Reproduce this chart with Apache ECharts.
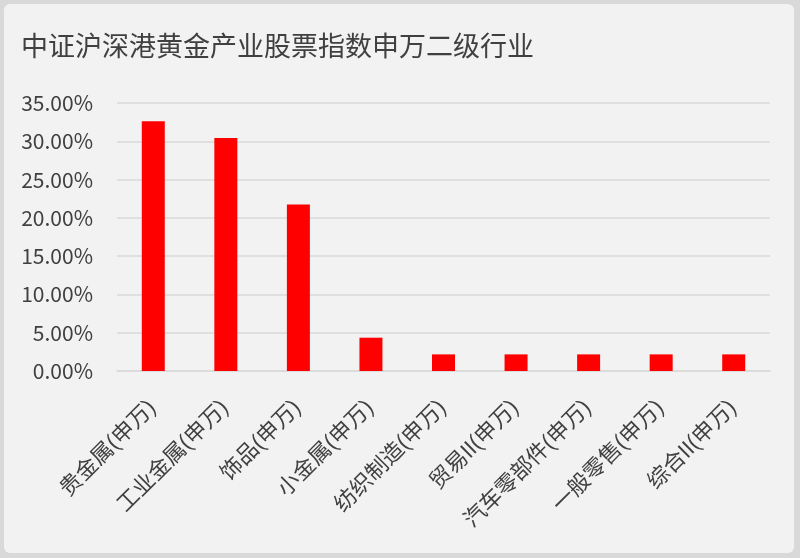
<!DOCTYPE html>
<html>
<head>
<meta charset="utf-8">
<script src="https://cdn.jsdelivr.net/npm/echarts@6/dist/echarts.min.js"></script>
<style>
html,body{margin:0;padding:0;background:#d9d9d9;width:800px;height:558px;overflow:hidden;}
#panel{position:absolute;left:4px;top:4px;width:790px;height:549px;background:#f2f2f2;border-radius:6px;}
#chart{position:absolute;left:0;top:0;width:800px;height:558px;}
</style>
</head>
<body>
<div id="panel"></div>
<div id="chart"></div>
<script>
const titleText = '中证沪深港黄金产业股票指数申万二级行业';
const categories = ['贵金属(申万)','工业金属(申万)','饰品(申万)','小金属(申万)','纺织制造(申万)','贸易II(申万)','汽车零部件(申万)','一般零售(申万)','综合II(申万)'];
const values = [32.61, 30.43, 21.74, 4.35, 2.17, 2.17, 2.17, 2.17, 2.17];
const yTicks = [0, 5, 10, 15, 20, 25, 30, 35];

const font = "'Noto Sans CJK SC', 'Noto Sans', sans-serif";
const latinFont = "Roboto, 'Noto Sans CJK SC', sans-serif";
const chart = echarts.init(document.getElementById('chart'), null, {renderer:'canvas'});
chart.setOption({
  backgroundColor: 'transparent',
  animation: false,
  textStyle: {fontFamily: font},
  title: {
    text: titleText,
    left: 16, top: 27,
    textStyle: {fontSize: 27, fontWeight: 'normal', color: '#404040', fontFamily: font}
  },
  grid: {left: 117, right: 30, top: 103, bottom: 187, containLabel: false},
  xAxis: {
    type: 'category',
    data: categories,
    axisLine: {show: true, lineStyle: {color: '#d9d9d9', width: 1.5}},
    axisTick: {show: false},
    axisLabel: {interval: 0, rotate: 45, fontSize: 22, color: '#404040', margin: 34, fontFamily: latinFont}
  },
  yAxis: {
    type: 'value',
    min: yTicks[0], max: yTicks[yTicks.length-1], interval: yTicks[1]-yTicks[0],
    axisLine: {show: false},
    axisTick: {show: false},
    splitLine: {lineStyle: {color: '#d9d9d9', width: 1.5}},
    axisLabel: {fontSize: 21, color: '#404040', margin: 24, fontFamily: font,
      formatter: v => v.toFixed(2) + '%'}
  },
  series: [{
    type: 'bar',
    data: values,
    barWidth: 23,
    itemStyle: {color: '#ff0000'}
  }]
});
</script>
</body>
</html>
